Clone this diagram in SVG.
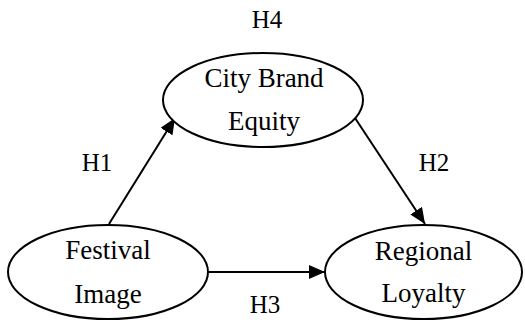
<svg xmlns="http://www.w3.org/2000/svg" width="525" height="322" viewBox="0 0 525 322">
<style>
.node ellipse{fill:#fff;stroke:#000;stroke-width:2}
.t{font-family:"Liberation Serif","Times New Roman",serif;font-size:27px;fill:#000;text-anchor:middle}
.h{font-family:"Liberation Serif","Times New Roman",serif;font-size:25px;fill:#000;text-anchor:middle}
.edges line{stroke:#000;stroke-width:2}
</style>
<defs>
<marker id="arr" markerUnits="userSpaceOnUse" markerWidth="17" markerHeight="14" refX="16" refY="7" orient="auto">
<path d="M0,0 L16,7 L0,14 z" fill="#000"/>
</marker>
</defs>
<rect width="525" height="322" fill="#fff"/>
<g class="edges">
<line x1="109" y1="224" x2="175" y2="118" marker-end="url(#arr)"/>
<line x1="355" y1="118" x2="425" y2="224" marker-end="url(#arr)"/>
<line x1="208" y1="272" x2="325" y2="272" marker-end="url(#arr)"/>
</g>
<g id="cbe" class="node">
<ellipse cx="263" cy="100" rx="100" ry="47"/>
<text class="t" x="264" y="87">City  Brand</text>
<text class="t" x="264" y="130">Equity</text>
</g>
<g id="fi" class="node">
<ellipse cx="108" cy="272" rx="100" ry="47"/>
<text class="t" x="108" y="259">Festival</text>
<text class="t" x="108" y="303">Image</text>
</g>
<g id="rl" class="node">
<ellipse cx="423.5" cy="272" rx="98.5" ry="47"/>
<text class="t" x="423.5" y="260">Regional</text>
<text class="t" x="423.5" y="302">Loyalty</text>
</g>
<g id="labels">
<text class="h" x="267" y="28">H4</text>
<text class="h" x="97" y="171">H1</text>
<text class="h" x="434" y="171">H2</text>
<text class="h" x="265" y="313">H3</text>
</g>
</svg>
